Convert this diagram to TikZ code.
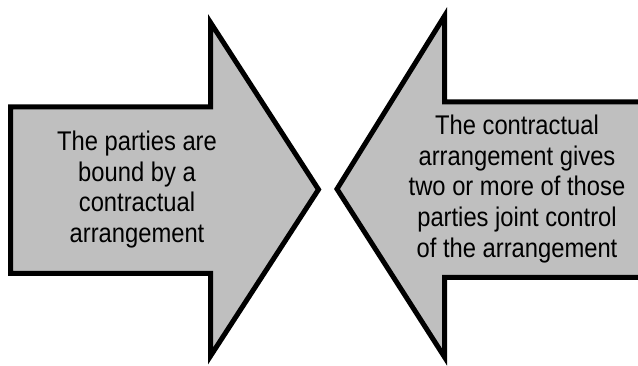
\documentclass[tikz,border=0pt]{standalone}
\usepackage{fontspec}
\setmainfont{Liberation Sans}[FakeStretch=0.88]
\begin{document}
\begin{tikzpicture}[x=1pt,y=-1pt,
  arrowshape/.style={draw=black,fill=gray!50!white,line width=5pt,line join=miter,miter limit=10},
  arrowtext/.style={align=center,text=black,font=\fontsize{27}{30.8}\selectfont,inner sep=0pt}]
\useasboundingbox (0,0) rectangle (638,366);
\clip (0,0) rectangle (638,366);
\fill[white] (0,0) rectangle (638,366);
% left arrow
\draw[arrowshape] (10.5,107) -- (210.5,107) -- (210.5,22.5) -- (318.5,189.5)
  -- (210.5,356) -- (210.5,273.5) -- (10.5,273.5) -- cycle;
% right arrow
\draw[arrowshape] (650,102) -- (444.5,102) -- (444.5,16) -- (337,189)
  -- (444.5,357) -- (444.5,277.5) -- (650,277.5) -- cycle;
\node[arrowtext] (lefttext) at (137,189.5) {The parties are\\bound by a\\contractual\\arrangement};
\node[arrowtext] (righttext) at (517,189) {The contractual\\arrangement gives\\two or more of those\\parties joint control\\of the arrangement};
\end{tikzpicture}
\end{document}
